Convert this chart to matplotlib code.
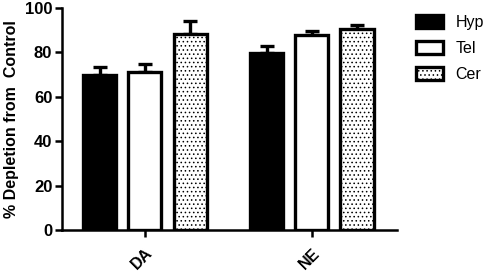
import matplotlib
matplotlib.use("Agg")
import matplotlib.pyplot as plt
import numpy as np

categories = ["DA", "NE"]
series = ["Hyp", "Tel", "Cer"]
hyp = [69.8, 79.7]
tel = [71.2, 87.8]
cer = [88.3, 90.5]
hyp_err = [3.6, 3.2]
tel_err = [3.6, 1.8]
cer_err = [5.8, 1.8]
yticks = [0, 20, 40, 60, 80, 100]

plt.rcParams['font.family'] = ['Liberation Sans', 'DejaVu Sans']
plt.rcParams['hatch.linewidth'] = 0.6
plt.rcParams['hatch.color'] = '#555555'

fig = plt.figure(figsize=(4.9, 2.72), dpi=100)
ax = fig.add_axes([0.1265, 0.1544, 0.6835, 0.8162])

x = np.arange(len(categories))
off = 0.27
w = 0.198
styles = [dict(color='black', hatch=None),
          dict(color='white', hatch=None),
          dict(color='white', hatch='....')]
vals = [hyp, tel, cer]
errs = [hyp_err, tel_err, cer_err]
for i, (name, v, e, st) in enumerate(zip(series, vals, errs, styles)):
    pos = x + (i - 1) * off
    ax.errorbar(pos, v, yerr=[np.zeros(len(e)), e], fmt='none', ecolor='black',
                elinewidth=2.4, capsize=5, capthick=2.4, zorder=1)
    ax.bar(pos, v, width=w, facecolor=st['color'], edgecolor='black',
           linewidth=2.4, hatch=st['hatch'], label=name, zorder=2)

ax.set_xlim(-0.497, 1.509)
ax.set_ylim(0, 100)
ax.set_yticks(yticks)
ax.set_xticks(x)
ax.set_xticklabels(categories, rotation=45, fontweight='bold', fontsize=11.5,
                   ha='right', rotation_mode='anchor')
ax.set_yticklabels([str(t) for t in yticks], fontweight='bold', fontsize=12)
ax.tick_params(axis='both', width=1.8, length=5, direction='out')
ax.tick_params(axis='x', pad=6)
ax.tick_params(axis='y', pad=2)
for s in ['top', 'right']:
    ax.spines[s].set_visible(False)
for s in ['left', 'bottom']:
    ax.spines[s].set_linewidth(1.8)
ax.set_ylabel('% Depletion from  Control', fontweight='bold', fontsize=11.5, labelpad=4)

leg = ax.legend(loc='upper left', bbox_to_anchor=(1.015, 1.035), frameon=False,
                fontsize=11.5, handlelength=1.65, handleheight=0.9, labelspacing=0.7,
                handletextpad=0.8)
fig.savefig('out.png', dpi=100)
